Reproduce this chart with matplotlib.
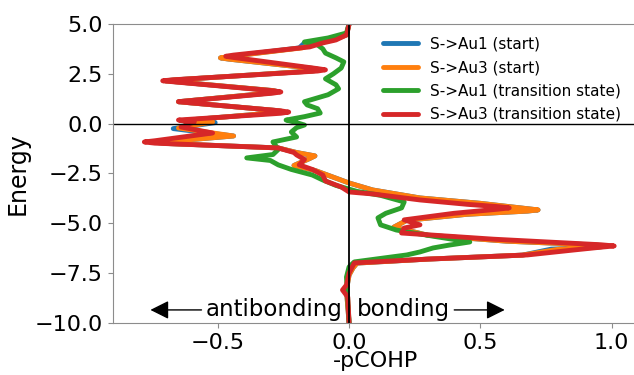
import matplotlib
matplotlib.use("Agg")
import matplotlib.pyplot as plt


# energies (E) and -pCOHP values, top to bottom

AU1_START_E = [5.0, 4.45, 4.2, 4.05, 3.8, 3.36, 3.3, 3.24, 2.76, 2.7, 2.64, 2.2, 2.15, 2.1,
               1.66, 1.6, 1.54, 1.15, 1.1, 1.05, 0.65, 0.6, 0.55, 0.15, 0.05,
               -0.25, -0.62, -0.9, -0.95, -1.0, -1.22, -1.45, -1.62, -1.75, -2.1, -2.35,
               -2.98, -3.33, -3.73, -4.0, -4.27, -4.33, -4.39, -4.55, -4.85, -5.2, -5.35,
               -5.6, -5.9, -6.09, -6.15, -6.21, -6.3, -6.6, -6.8, -7.0, -7.24, -7.6,
               -8.35, -10.0]
AU1_START_X = [0.0, -0.01, -0.07, -0.17, -0.19, -0.46, -0.49, -0.46, -0.13, -0.11, -0.14,
               -0.66, -0.70, -0.66, -0.29, -0.27, -0.30, -0.61, -0.65, -0.61, -0.27, -0.25,
               -0.28, -0.64, -0.51, -0.67, -0.44, -0.69, -0.73, -0.69, -0.27, -0.20, -0.13,
               -0.15, -0.21, -0.13, 0.0, 0.09, 0.27, 0.50, 0.68, 0.72, 0.68, 0.45, 0.22,
               0.17, 0.22, 0.30, 0.60, 0.94, 0.98, 0.94, 0.77, 0.66, 0.30, 0.03, 0.015,
               0.0, -0.01, 0.0]

AU3_START_E = [5.0, 4.45, 4.2, 4.02, 3.8, 3.36, 3.3, 3.24, 2.76, 2.7, 2.64, 2.2, 2.15, 2.1,
               1.66, 1.6, 1.54, 1.15, 1.1, 1.05, 0.65, 0.6, 0.55, 0.15, 0.08,
               -0.22, -0.62, -0.9, -0.95, -1.0, -1.22, -1.45, -1.62, -1.75, -2.1, -2.35,
               -2.98, -3.33, -3.73, -4.0, -4.27, -4.33, -4.39, -4.55, -4.85, -5.2, -5.35,
               -5.6, -5.9, -6.09, -6.15, -6.21, -6.3, -6.6, -6.8, -7.0, -7.24, -7.6,
               -8.35, -10.0]
AU3_START_X = [0.0, -0.01, -0.06, -0.13, -0.18, -0.46, -0.49, -0.46, -0.13, -0.11, -0.14,
               -0.66, -0.70, -0.66, -0.29, -0.27, -0.30, -0.61, -0.65, -0.61, -0.27, -0.25,
               -0.28, -0.64, -0.52, -0.65, -0.44, -0.69, -0.73, -0.69, -0.27, -0.20, -0.13,
               -0.15, -0.21, -0.13, 0.0, 0.09, 0.27, 0.50, 0.68, 0.72, 0.68, 0.45, 0.22,
               0.17, 0.22, 0.30, 0.60, 0.94, 0.98, 0.94, 0.80, 0.66, 0.30, 0.03, 0.015,
               0.0, -0.01, 0.0]

AU1_TS_E = [5.0, 4.55, 4.3, 4.1, 3.95, 3.75, 3.54, 3.3, 3.1, 2.79, 2.5, 2.25, 1.95,
            1.75, 1.45, 1.1, 0.94, 0.75, 0.53, 0.35, 0.18, 0.05, -0.07, -0.2, -0.42,
            -0.67, -0.92, -1.1, -1.3, -1.55, -1.72, -1.85, -2.07, -2.3, -2.58, -2.83,
            -3.1, -3.4, -3.6, -3.93, -4.23, -4.5, -4.73, -5.08, -5.34, -5.65, -5.94,
            -6.1, -6.24, -6.44, -6.59, -6.8, -6.94, -7.19, -7.7, -10.0]
AU1_TS_X = [0.0, -0.01, -0.08, -0.17, -0.12, -0.10, -0.09, -0.05, -0.02, -0.03, -0.06,
            -0.09, -0.05, -0.04, -0.08, -0.17, -0.16, -0.12, -0.11, -0.17, -0.24, -0.20,
            -0.17, -0.20, -0.22, -0.20, -0.29, -0.28, -0.27, -0.29, -0.39, -0.30, -0.27,
            -0.22, -0.14, -0.10, -0.05, 0.03, 0.12, 0.21, 0.20, 0.14, 0.11, 0.12, 0.18,
            0.32, 0.46, 0.38, 0.32, 0.27, 0.22, 0.10, 0.02, 0.0, -0.01, 0.0]

AU3_TS_E = [5.0, 4.7, 4.45, 4.2, 4.05, 3.85, 3.44, 3.38, 3.32, 2.76, 2.7, 2.64, 2.2, 2.15,
            2.1, 1.65, 1.59, 1.53, 1.15, 1.1, 1.05, 0.64, 0.58, 0.52, 0.18, 0.08, -0.17,
            -0.47, -0.86, -0.92, -0.98, -1.22, -1.45, -1.57, -1.8, -2.07, -2.3, -2.58,
            -2.88, -3.18, -3.43, -3.53, -3.83, -4.05, -4.17, -4.23, -4.29, -4.5, -4.83,
            -5.08, -5.24, -5.49, -5.8, -6.08, -6.14, -6.2, -6.35, -6.59, -6.8, -6.99,
            -7.5, -8.1, -8.35, -8.7, -10.0]
AU3_TS_X = [0.0, -0.005, -0.01, -0.05, -0.10, -0.15, -0.44, -0.47, -0.44, -0.12, -0.09,
            -0.12, -0.67, -0.71, -0.67, -0.29, -0.26, -0.29, -0.61, -0.65, -0.61, -0.26,
            -0.23, -0.26, -0.65, -0.59, -0.64, -0.52, -0.74, -0.78, -0.74, -0.27, -0.21,
            -0.20, -0.17, -0.19, -0.14, -0.10, -0.09, -0.03, 0.0, 0.09, 0.27, 0.45, 0.57,
            0.61, 0.57, 0.40, 0.21, 0.27, 0.21, 0.20, 0.55, 0.96, 1.01, 0.96, 0.85, 0.68,
            0.30, 0.02, 0.0, -0.01, -0.025, -0.005, 0.0]

SERIES = [
    ("S->Au1 (start)", AU1_START_X, AU1_START_E, "tab:blue"),
    ("S->Au3 (start)", AU3_START_X, AU3_START_E, "tab:orange"),
    ("S->Au1 (transition state)", AU1_TS_X, AU1_TS_E, "tab:green"),
    ("S->Au3 (transition state)", AU3_TS_X, AU3_TS_E, "tab:red"),
]


def main():
    fig = plt.figure(figsize=(6.34, 3.75), dpi=100)
    ax = fig.add_axes([0.178, 0.139, 0.828, 0.797])

    for label, x, e, color in SERIES:
        ax.plot(x, e, color=color, lw=3.5, label=label,
                solid_joinstyle="round", solid_capstyle="round")

    ax.axhline(0, color="k", lw=1)
    ax.axvline(0, color="k", lw=1.3)

    ax.set_xlim(-0.9, 1.1)
    ax.set_ylim(-10, 5)
    ax.set_xticks([-0.5, 0.0, 0.5, 1.0])
    ax.set_yticks([5.0, 2.5, 0.0, -2.5, -5.0, -7.5, -10.0])
    ax.tick_params(labelsize=16, color="0.55")
    for sp in ax.spines.values():
        sp.set_color("0.55")

    ax.set_xlabel("-pCOHP", fontsize=16, labelpad=-1)
    ax.set_ylabel("Energy", fontsize=17)

    arrow = dict(arrowstyle="-|>", color="k", lw=1, mutation_scale=28, shrinkA=1, shrinkB=0)
    ax.annotate("antibonding", xy=(-0.757, -9.35), xytext=(-0.025, -9.35),
                ha="right", va="center", fontsize=16.5, arrowprops=arrow)
    ax.annotate("bonding", xy=(0.593, -9.35), xytext=(0.03, -9.35),
                ha="left", va="center", fontsize=16.5, arrowprops=arrow)

    ax.legend(loc="upper right", bbox_to_anchor=(0.98, 0.978), frameon=False,
              fontsize=11, handlelength=2.3, labelspacing=0.55, borderaxespad=0.0)

    fig.savefig("out.png", dpi=100)


if __name__ == "__main__":
    main()
